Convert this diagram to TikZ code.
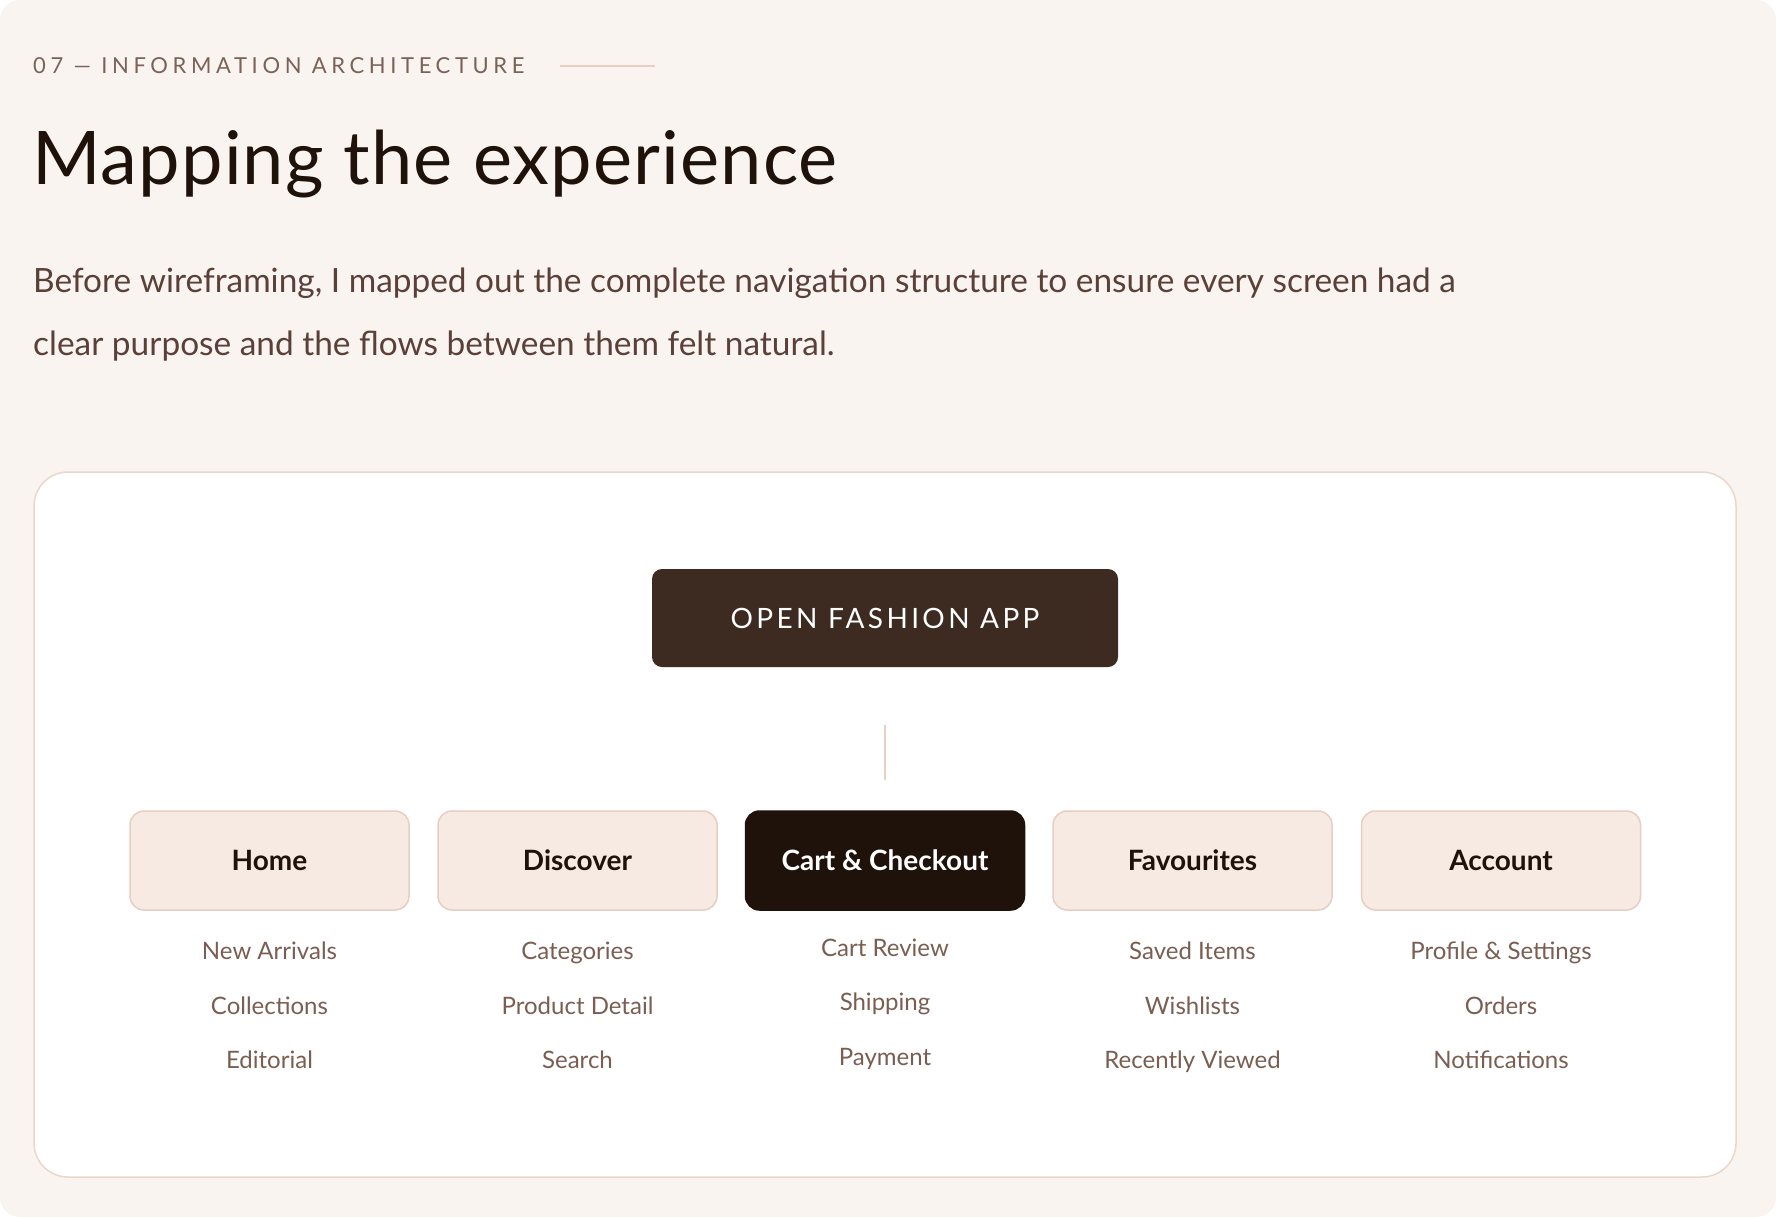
\documentclass[tikz,border=0pt]{standalone}
\usepackage{fontspec}
\setmainfont{Lato}
\usetikzlibrary{positioning}
\definecolor{pagebg}{HTML}{F9F4F0}
\definecolor{ink}{HTML}{1E120A}
\definecolor{kicker}{HTML}{7A6258}
\definecolor{body}{HTML}{5A4038}
\definecolor{accent}{HTML}{E9CFC3}
\definecolor{cardline}{HTML}{EBD6CC}
\definecolor{rootfill}{HTML}{3D2A21}
\definecolor{catfill}{HTML}{F6EAE2}
\definecolor{catline}{HTML}{E8CDC0}
\definecolor{leaf}{HTML}{7B5E52}

\tikzset{
  txt/.style={inner sep=0pt, anchor=base west},
  catbox/.style={draw=catline, fill=catfill, line width=1.5pt, rounded corners=14pt,
    minimum width=279pt, minimum height=99pt, text=ink,
    font=\fontsize{28}{32}\selectfont\bfseries},
  leafitem/.style={inner sep=0pt, anchor=base, text=leaf, font=\fontsize{24}{30}\selectfont}
}

\begin{document}
\begin{tikzpicture}[x=1pt,y=-1pt]
\useasboundingbox (0,0) rectangle (1776,1217);
\fill[white] (0,0) rectangle (1776,1217);
\fill[pagebg, rounded corners=20pt] (0,0) rectangle (1776,1217);
%
% heading
\node[txt, text=kicker, font=\fontsize{22}{26}\selectfont\addfontfeature{LetterSpace=21}] (kick) at (33,74) {07 — INFORMATION ARCHITECTURE};
\coordinate (ruleA) at (560,66);
\coordinate (ruleB) at (655,66);
\draw[accent, line width=1.5pt] (ruleA) -- (ruleB);
\node[txt, text=ink, font=\fontsize{74}{80}\selectfont\addfontfeature{LetterSpace=1.5}] (title) at (32,185) {Mapping the experience};
\node[txt, text=body, font=\fontsize{33.4}{36}\selectfont] (para1) at (33,292) {Before wireframing, I mapped out the complete navigation structure to ensure every screen had a};
\node[txt, text=body, font=\fontsize{33.4}{36}\selectfont] (para2) at (33,355) {clear purpose and the flows between them felt natural.};
%
% card
\draw[cardline, fill=white, line width=1.5pt, rounded corners=34pt] (34,472) rectangle (1736,1177);
\node[fill=rootfill, rounded corners=10pt, minimum width=466pt, minimum height=98pt, text=white,
  font=\fontsize{28}{32}\selectfont\addfontfeature{LetterSpace=12}] (app) at (885,618) {OPEN FASHION APP};
%
\node[catbox] (home) at (269.5,860.5) {Home};
\node[catbox] (discover) at (577.5,860.5) {Discover};
\node[catbox, fill=ink, draw=ink, text=white] (cart) at (885,860.5) {Cart \& Checkout};
\node[catbox] (fav) at (1192.5,860.5) {Favourites};
\node[catbox] (account) at (1501,860.5) {Account};
\draw[accent, line width=1.5pt, shorten <=58pt, shorten >=30pt] (app) -- (cart);
%
\foreach \cat/\a/\b/\c in {home/New Arrivals/Collections/Editorial,
    discover/Categories/Product Detail/Search,
    fav/Saved Items/Wishlists/Recently Viewed,
    account/Profile \& Settings/Orders/Notifications}{
  \node[leafitem] (\cat-1) at (\cat.south |- 0,959) {\a};
  \node[leafitem] (\cat-2) at (\cat.south |- 0,1014) {\b};
  \node[leafitem] (\cat-3) at (\cat.south |- 0,1068) {\c};
}
\node[leafitem] (cart-1) at (cart.south |- 0,956) {Cart Review};
\node[leafitem] (cart-2) at (cart.south |- 0,1010) {Shipping};
\node[leafitem] (cart-3) at (cart.south |- 0,1065) {Payment};
\end{tikzpicture}
\end{document}
